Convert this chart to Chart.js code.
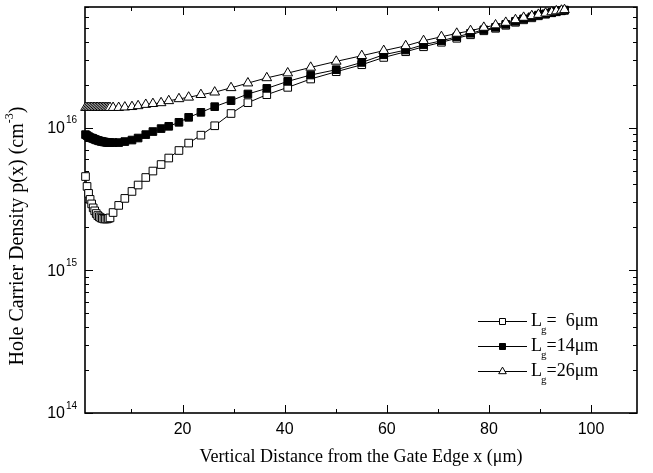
<!DOCTYPE html>
<html>
<head>
<meta charset="utf-8">
<script src="https://cdn.jsdelivr.net/npm/chart.js@4/dist/chart.umd.min.js"></script>
<style>html,body{margin:0;padding:0;background:#fff}</style>
</head>
<body>
<canvas id="c" width="653" height="473"></canvas>
<script>
// x positions of the simulation mesh (µm), dense near both ends
const xPos = [1.0, 1.3, 1.6, 1.9, 2.2, 2.5, 2.8, 3.1, 3.4, 3.7, 4.0, 4.3, 4.6, 4.9, 5.2, 5.5, 5.8,
  6.4, 7.5, 8.7, 10.1, 11.3, 12.8, 14.2, 15.8, 17.3, 19.3, 21.2, 23.6, 26.3, 29.5, 32.8, 36.5, 40.6, 45.1, 50.1, 55.1, 59.4, 63.7,
  67.2, 70.7, 73.7, 76.4, 79.0, 81.3, 83.3, 85.2, 86.8, 88.4, 89.7, 91.1, 92.3, 93.2, 94.2, 94.8];

// hole density p(x) in cm^-3
const lg6 = [0.454e16, 0.387e16, 0.346e16, 0.314e16, 0.292e16, 0.274e16, 0.261e16, 0.250e16, 0.242e16, 0.237e16, 0.233e16, 0.231e16, 0.229e16, 0.229e16, 0.229e16, 0.231e16, 0.233e16,
  0.254e16, 0.285e16, 0.319e16, 0.357e16, 0.396e16, 0.447e16, 0.496e16, 0.551e16, 0.612e16, 0.691e16, 0.779e16, 0.885e16, 1.030e16, 1.255e16, 1.495e16, 1.701e16, 1.914e16, 2.190e16, 2.464e16, 2.758e16, 3.102e16, 3.401e16,
  3.685e16, 3.962e16, 4.226e16, 4.471e16, 4.768e16, 4.963e16, 5.209e16, 5.467e16, 5.691e16, 5.877e16, 6.072e16, 6.231e16, 6.373e16, 6.476e16, 6.580e16, 6.633e16];
const lg14 = [0.893e16, 0.879e16, 0.865e16, 0.851e16, 0.845e16, 0.838e16, 0.828e16, 0.820e16, 0.814e16, 0.807e16, 0.802e16, 0.798e16, 0.794e16, 0.790e16, 0.788e16, 0.785e16, 0.785e16,
  0.785e16, 0.785e16, 0.798e16, 0.818e16, 0.845e16, 0.893e16, 0.938e16, 0.984e16, 1.021e16, 1.089e16, 1.180e16, 1.279e16, 1.402e16, 1.545e16, 1.720e16, 1.883e16, 2.108e16, 2.336e16, 2.545e16, 2.862e16, 3.239e16, 3.494e16,
  3.805e16, 4.058e16, 4.329e16, 4.580e16, 4.845e16, 5.045e16, 5.294e16, 5.556e16, 5.783e16, 5.973e16, 6.140e16, 6.270e16, 6.404e16, 6.516e16, 6.600e16, 6.665e16];
const lg26 = [1.38e16, 1.38e16, 1.38e16, 1.38e16, 1.38e16, 1.38e16, 1.38e16, 1.38e16, 1.38e16, 1.38e16, 1.38e16, 1.38e16, 1.38e16, 1.38e16, 1.38e16, 1.38e16, 1.38e16,
  1.38e16, 1.38e16, 1.39e16, 1.40e16, 1.42e16, 1.45e16, 1.47e16, 1.49e16, 1.54e16, 1.59e16, 1.63e16, 1.70e16, 1.77e16, 1.90e16, 2.05e16, 2.23e16, 2.41e16, 2.64e16, 2.91e16, 3.19e16, 3.46e16, 3.74e16,
  4.06e16, 4.33e16, 4.57e16, 4.77e16, 5.03e16, 5.23e16, 5.45e16, 5.69e16, 5.91e16, 6.07e16, 6.20e16, 6.33e16, 6.46e16, 6.56e16, 6.63e16, 6.69e16];

const xMajor = [20, 40, 60, 80, 100];
const xMinor = [10, 30, 50, 70, 90];
const yDecades = [14, 15, 16];
const legendText = ['=  6\u03bcm', '=14\u03bcm', '=26\u03bcm'];

const SERIF = '"Liberation Serif", "Times New Roman", serif';
const SANS = '"Liberation Sans", Arial, sans-serif';

function series(label, values, style, fill, radius) {
  return {
    label,
    data: xPos.map((x, i) => ({ x, y: values[i] })),
    borderColor: '#000',
    borderWidth: 1,
    backgroundColor: fill,
    pointStyle: style,
    pointRadius: radius,
    pointBorderWidth: 1,
    pointBackgroundColor: fill,
    pointBorderColor: '#000',
    tension: 0,
    clip: false,
  };
}

// small marker for the legend
function marker(ctx, style, fill, x, y) {
  ctx.save();
  ctx.fillStyle = fill;
  ctx.strokeStyle = '#000';
  ctx.lineWidth = 1;
  ctx.beginPath();
  if (style === 'triangle') {
    const r = 4.4;
    ctx.moveTo(x, y - r);
    ctx.lineTo(x + r * 0.866, y + r / 2);
    ctx.lineTo(x - r * 0.866, y + r / 2);
    ctx.closePath();
  } else {
    ctx.rect(x - 3, y - 3, 6, 6);
  }
  ctx.fill();
  ctx.stroke();
  ctx.restore();
}

const axesPlugin = {
  id: 'axesPlugin',
  beforeDatasetsDraw(chart) {
    const { ctx, chartArea: a, scales: { x, y } } = chart;
    ctx.save();
    ctx.strokeStyle = '#000';
    ctx.lineWidth = 1;
    const tick = (x1, y1, x2, y2) => { ctx.beginPath(); ctx.moveTo(x1, y1); ctx.lineTo(x2, y2); ctx.stroke(); };

    xMajor.forEach(v => { const p = Math.round(x.getPixelForValue(v)) + 0.5; tick(p, a.bottom, p, a.bottom - 8); tick(p, a.top, p, a.top + 8); });
    xMinor.forEach(v => { const p = Math.round(x.getPixelForValue(v)) + 0.5; tick(p, a.bottom, p, a.bottom - 4); tick(p, a.top, p, a.top + 4); });
    yDecades.forEach(d => {
      for (let m = 1; m <= 9; m++) {
        const v = m * Math.pow(10, d);
        if (v > y.max) break;
        const p = Math.round(y.getPixelForValue(v)) + 0.5;
        const len = m === 1 ? 8 : 4;
        tick(a.left, p, a.left + len, p);
        tick(a.right, p, a.right - len, p);
      }
    });

    ctx.lineWidth = 1.6;
    ctx.strokeRect(a.left, a.top, a.right - a.left, a.bottom - a.top);

    ctx.fillStyle = '#000';
    ctx.font = '16px ' + SANS;
    ctx.textAlign = 'center';
    ctx.textBaseline = 'middle';
    xMajor.forEach(v => ctx.fillText(String(v), x.getPixelForValue(v), a.bottom + 17));

    yDecades.forEach(d => {
      const p = y.getPixelForValue(Math.pow(10, d));
      ctx.font = '16px ' + SANS;
      ctx.textAlign = 'right';
      ctx.fillText('10', a.left - 20, p + 1);
      ctx.font = '10px ' + SANS;
      ctx.textAlign = 'left';
      ctx.fillText(String(d), a.left - 19, p - 7);
    });

    // axis titles
    ctx.font = '18px ' + SERIF;
    ctx.textAlign = 'center';
    ctx.fillText('Vertical Distance from the Gate Edge x (\u03bcm)', (a.left + a.right) / 2, 457);

    ctx.save();
    ctx.translate(18, 236);
    ctx.rotate(-Math.PI / 2);
    const main = 'Hole Carrier Density p(x) (cm';
    ctx.font = '20px ' + SERIF;
    const w1 = ctx.measureText(main).width;
    ctx.font = '12px ' + SERIF;
    const w2 = ctx.measureText('-3').width;
    ctx.font = '20px ' + SERIF;
    const w3 = ctx.measureText(')').width;
    const sx = -(w1 + w2 + w3) / 2;
    ctx.textAlign = 'left';
    ctx.fillText(main, sx, 0);
    ctx.font = '12px ' + SERIF;
    ctx.fillText('-3', sx + w1, -8);
    ctx.font = '20px ' + SERIF;
    ctx.fillText(')', sx + w1 + w2, 0);
    ctx.restore();

    ctx.restore();
  },
  afterDraw(chart) {
    const { ctx } = chart;
    const rows = [321, 346, 371];
    const styles = [['rect', '#fff'], ['rect', '#000'], ['triangle', '#fff']];
    ctx.save();
    rows.forEach((ry, i) => {
      ctx.strokeStyle = '#000';
      ctx.lineWidth = 1;
      ctx.beginPath();
      ctx.moveTo(478, ry + 0.5);
      ctx.lineTo(527, ry + 0.5);
      ctx.stroke();
      marker(ctx, styles[i][0], styles[i][1], 502.5, ry + 0.5);
      ctx.fillStyle = '#000';
      ctx.textAlign = 'left';
      ctx.textBaseline = 'middle';
      ctx.font = '18px ' + SERIF;
      ctx.fillText('L', 531, ry);
      const lw = ctx.measureText('L').width;
      ctx.font = '11px ' + SERIF;
      ctx.fillText('g', 531 + lw - 1, ry + 9);
      const gw = ctx.measureText('g').width;
      ctx.font = '18px ' + SERIF;
      ctx.fillText(legendText[i], 531 + lw + gw - 1, ry);
    });
    ctx.restore();
  }
};

new Chart(document.getElementById('c'), {
  type: 'line',
  data: {
    datasets: [
      series('Lg=26um', lg26, 'triangle', '#fff', 5.6),
      series('Lg=14um', lg14, 'rect', '#000', 5.4),
      series('Lg=6um', lg6, 'rect', '#fff', 5.4),
    ],
  },
  options: {
    responsive: false,
    animation: false,
    devicePixelRatio: 1,
    layout: { padding: { left: 85, right: 16, top: 7, bottom: 60 } },
    plugins: { legend: { display: false }, tooltip: { enabled: false } },
    scales: {
      x: { type: 'linear', min: 0.9, max: 109, display: false },
      y: { type: 'logarithmic', min: 1e14, max: 7e16, display: false },
    },
  },
  plugins: [axesPlugin],
});
</script>
</body>
</html>
